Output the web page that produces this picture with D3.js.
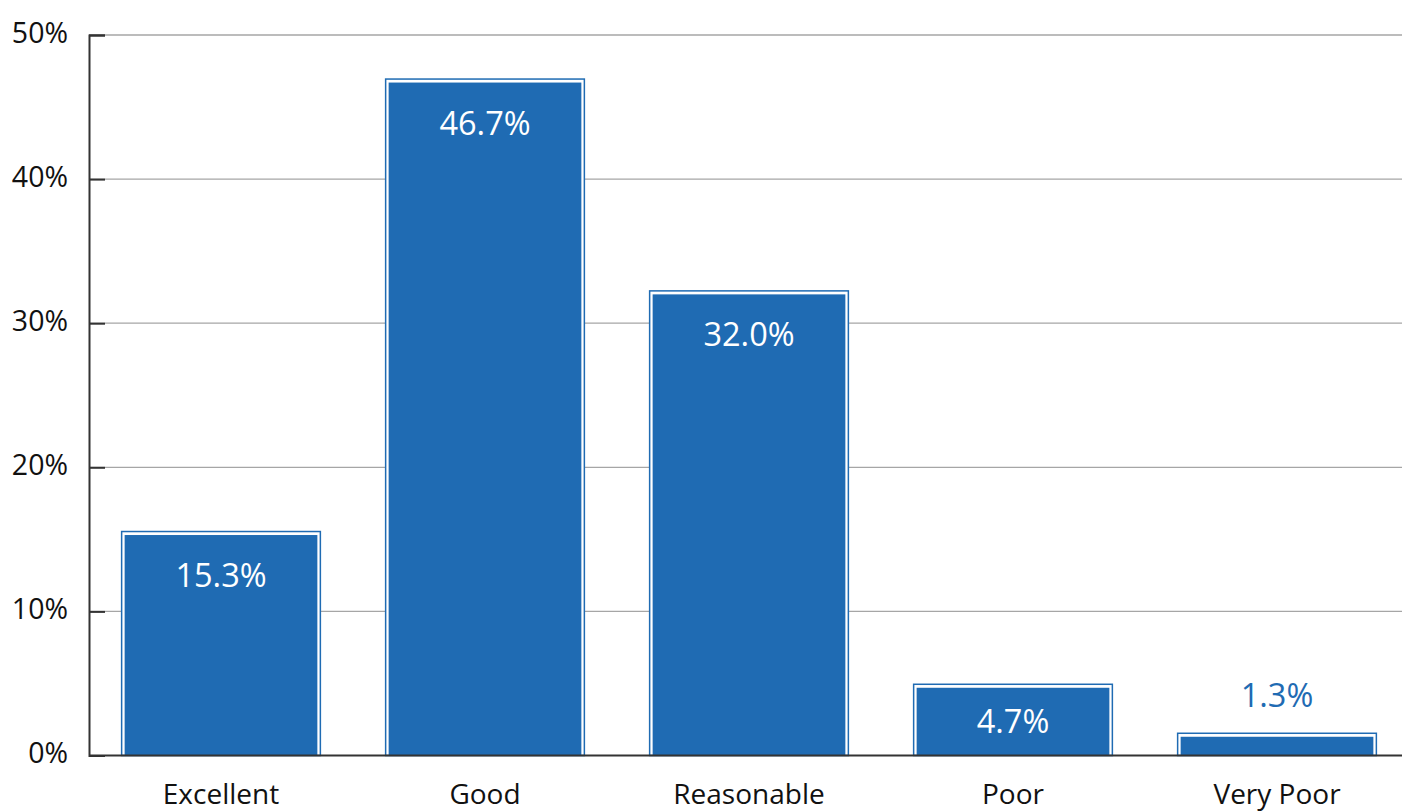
<!DOCTYPE html>
<html>
<head>
<meta charset="utf-8">
<script src="https://cdn.jsdelivr.net/npm/d3@7"></script>
<style>
  html, body { margin: 0; padding: 0; background: #fff; }
  svg { display: block; }
  text { font-family: "Open Sans", "Noto Sans", sans-serif; }
</style>
</head>
<body>
<svg id="chart" width="1402" height="812"></svg>
<script>
// Survey ratings (% of respondents)
const categories = ["Excellent", "Good", "Reasonable", "Poor", "Very Poor"];
const values = [15.3, 46.7, 32.0, 4.7, 1.3];
const yTicks = [0, 10, 20, 30, 40, 50];

const W = 1402, H = 812;
const plotLeft = 89, plotTop = 35, plotBottom = 755.5;
const blue = "#1f6bb3";

const svg = d3.select("#chart");

const x = d3.scaleBand()
  .domain(categories)
  .range([plotLeft, plotLeft + 5 * 264])
  .paddingInner(0.27)
  .paddingOuter(0.135);

const y = d3.scaleLinear().domain([0, 50]).range([plotBottom, plotTop]);

// gridlines
svg.append("g")
  .selectAll("line")
  .data(yTicks.filter(d => d > 0))
  .join("line")
  .attr("x1", plotLeft).attr("x2", W)
  .attr("y1", d => y(d)).attr("y2", d => y(d))
  .attr("stroke", "#a6a6a6").attr("stroke-width", 1.3);

// y axis with inward ticks
const yAxis = d3.axisLeft(y)
  .tickValues(yTicks)
  .tickSize(-16)
  .tickPadding(21)
  .tickFormat(d => d + "%");
const gy = svg.append("g").attr("transform", `translate(${plotLeft},0)`).call(yAxis);
gy.select(".domain").attr("stroke", "#333").attr("stroke-width", 2);
gy.selectAll(".tick line").attr("stroke", "#333").attr("stroke-width", 2);
gy.selectAll(".tick text")
  .attr("fill", "#111")
  .attr("font-size", 28.5)
  .attr("text-anchor", "end")
  .attr("x", -21)
  .attr("dy", 0)
  .attr("y", 7);

// bars: blue fill, white gap, thin blue outline
const bars = svg.append("g").selectAll("g").data(values).join("g");
bars.append("rect")
  .attr("x", (d, i) => x(categories[i]) - 3)
  .attr("y", d => y(d) - 3.5)
  .attr("width", x.bandwidth() + 6)
  .attr("height", d => plotBottom - y(d) + 3.5)
  .attr("fill", "#fff")
  .attr("stroke", blue)
  .attr("stroke-width", 1.5);
bars.append("rect")
  .attr("x", (d, i) => x(categories[i]))
  .attr("y", d => y(d))
  .attr("width", x.bandwidth())
  .attr("height", d => plotBottom - y(d))
  .attr("fill", blue);

// x axis baseline
svg.append("line")
  .attr("x1", plotLeft).attr("x2", W)
  .attr("y1", plotBottom).attr("y2", plotBottom)
  .attr("stroke", "#333").attr("stroke-width", 2);

// category labels
const xAxis = d3.axisBottom(x).tickSize(0).tickPadding(0);
const gx = svg.append("g").attr("transform", `translate(0,${plotBottom})`).call(xAxis);
gx.select(".domain").remove();
gx.selectAll(".tick text")
  .attr("fill", "#111")
  .attr("font-size", 28)
  .attr("font-family", "\"Open Sans\", sans-serif")
  .attr("dy", 0)
  .attr("y", 48.5);

// value labels: inside the top of tall bars, centred in short ones, above tiny ones
const inside = d => plotBottom - y(d) > 50;
bars.append("text")
  .attr("x", (d, i) => x(categories[i]) + x.bandwidth() / 2)
  .attr("y", d => inside(d)
    ? Math.min(y(d) + 52, (y(d) + plotBottom) / 2 + 11.5)
    : y(d) - 30)
  .attr("text-anchor", "middle")
  .attr("font-size", 32.5)
  .attr("fill", d => inside(d) ? "#fff" : blue)
  .text(d => d.toFixed(1) + "%");
</script>
</body>
</html>
